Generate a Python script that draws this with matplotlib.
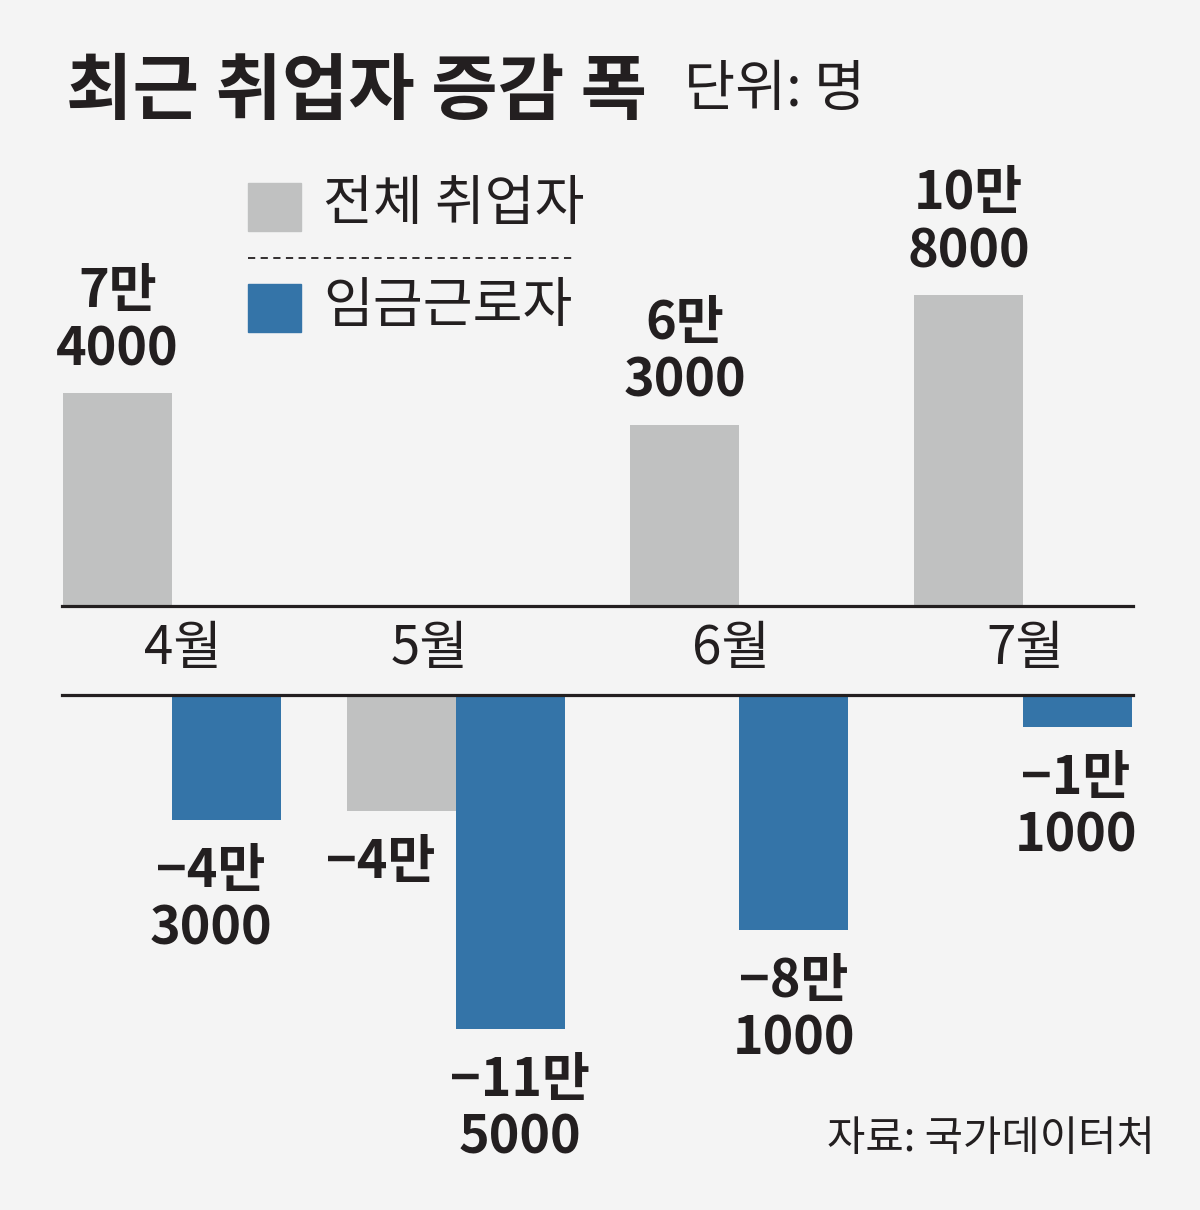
import matplotlib.pyplot as plt
from matplotlib.lines import Line2D
from matplotlib.patches import Rectangle
from matplotlib.transforms import blended_transform_factory

plt.rcParams["font.family"] = ["Noto Sans CJK KR", "DejaVu Sans"]

# data (명)
months = ["4월", "5월", "6월", "7월"]
total_emp = [74000, -40000, 63000, 108000]   # 전체 취업자
wage_emp = [-43000, -115000, -81000, -11000]  # 임금근로자

BG = "#f4f4f4"
GRAY = "#c0c1c1"
BLUE = "#3474a8"
INK = "#231f20"

W, H = 1200, 1210
GROUP_PX = 283.7  # px between month groups
BAR_W = 109 / GROUP_PX


def fmt_man(v):
    sign = "−" if v < 0 else ""
    man, rest = divmod(abs(v), 10000)
    s = f"{sign}{man}만"
    if rest:
        s += f"\n{rest}"
    return s


fig = plt.figure(figsize=(W / 100, H / 100), dpi=100)
fig.patch.set_facecolor(BG)


def px_axes(left, top, right, bottom):
    ax = fig.add_axes([left / W, 1 - bottom / H, (right - left) / W, (bottom - top) / H])
    ax.set_facecolor("none")
    ax.axis("off")
    ax.set_xlim(-172 / GROUP_PX, (W - 172) / GROUP_PX)
    return ax


# upper panel: gains, lower panel: losses
ax_top = px_axes(0, 140, W, 606)
ax_top.set_ylim(0, 466 / 2.88 * 1000)
ax_bot = px_axes(0, 695, W, 1200)
ax_bot.set_ylim(-505 / 2.9 * 1000, 0)

xs = list(range(len(months)))
x_tot = [x - BAR_W / 2 for x in xs]
x_wage = [x + BAR_W / 2 for x in xs]

ax_top.bar(x_tot, [max(v, 0) for v in total_emp], BAR_W, color=GRAY, zorder=1)
ax_top.bar(x_wage, [max(v, 0) for v in wage_emp], BAR_W, color=BLUE, zorder=1)
ax_bot.bar(x_tot, [min(v, 0) for v in total_emp], BAR_W, color=GRAY, zorder=1)
ax_bot.bar(x_wage, [min(v, 0) for v in wage_emp], BAR_W, color=BLUE, zorder=1)

for ax in (ax_top, ax_bot):
    ax.axhline(0, xmin=62 / W, xmax=1133 / W, color=INK, lw=2.3, zorder=3, clip_on=False)

# value labels (small hand nudges in px as in the original layout)
lab_kw = dict(ha="center", fontsize=37.5, fontweight="bold", color=INK,
              linespacing=1.12, textcoords="offset points", annotation_clip=False)
tot_dx = [0, -21, 0, 0]
wage_dx = [-16, 10, 0, -2]
for x, v, dx in zip(x_tot + x_wage, total_emp + wage_emp, tot_dx + wage_dx):
    ax = ax_top if v > 0 else ax_bot
    if v > 0:
        ax.annotate(fmt_man(v), (x, v), xytext=(dx * 0.72, 12), va="bottom", **lab_kw)
    else:
        ax.annotate(fmt_man(v), (x, v), xytext=(dx * 0.72, -18), va="top", **lab_kw)

# month labels between the two lines
month_dx = [11, -26, -8, 2]
trans = blended_transform_factory(ax_top.transData, fig.transFigure)
for x, m, dx in zip(xs, months, month_dx):
    ax_top.text(x + dx / GROUP_PX, 1 - 648 / H, m, transform=trans, ha="center",
                va="center", fontsize=38, color=INK, fontweight="light")

# title
fig.text(66 / W, 1 - 93 / H, "최근 취업자 증감 폭", fontsize=52, fontweight="bold",
         color=INK, va="center", ha="left")
fig.text(684 / W, 1 - 90 / H, "단위: 명", fontsize=40, color=INK, va="center", ha="left",
         fontweight="light")

# legend
fig.patches.append(Rectangle((248 / W, 1 - 231 / H), 53 / W, 48 / H, color=GRAY,
                             transform=fig.transFigure))
fig.patches.append(Rectangle((248 / W, 1 - 332 / H), 53 / W, 48 / H, color=BLUE,
                             transform=fig.transFigure))
fig.text(323 / W, 1 - 205 / H, "전체 취업자", fontsize=39, color=INK, va="center")
fig.text(323 / W, 1 - 307 / H, "임금근로자", fontsize=39, color=INK, va="center")
fig.lines.append(Line2D([248 / W, 575 / W], [1 - 258 / H] * 2, transform=fig.transFigure,
                        color=INK, lw=1.3, dashes=(4, 3)))

fig.text(1155 / W, 1 - 1140 / H, "자료: 국가데이터처", fontsize=30, color=INK,
         ha="right", va="center")

fig.savefig("out.png", dpi=100, facecolor=BG)
